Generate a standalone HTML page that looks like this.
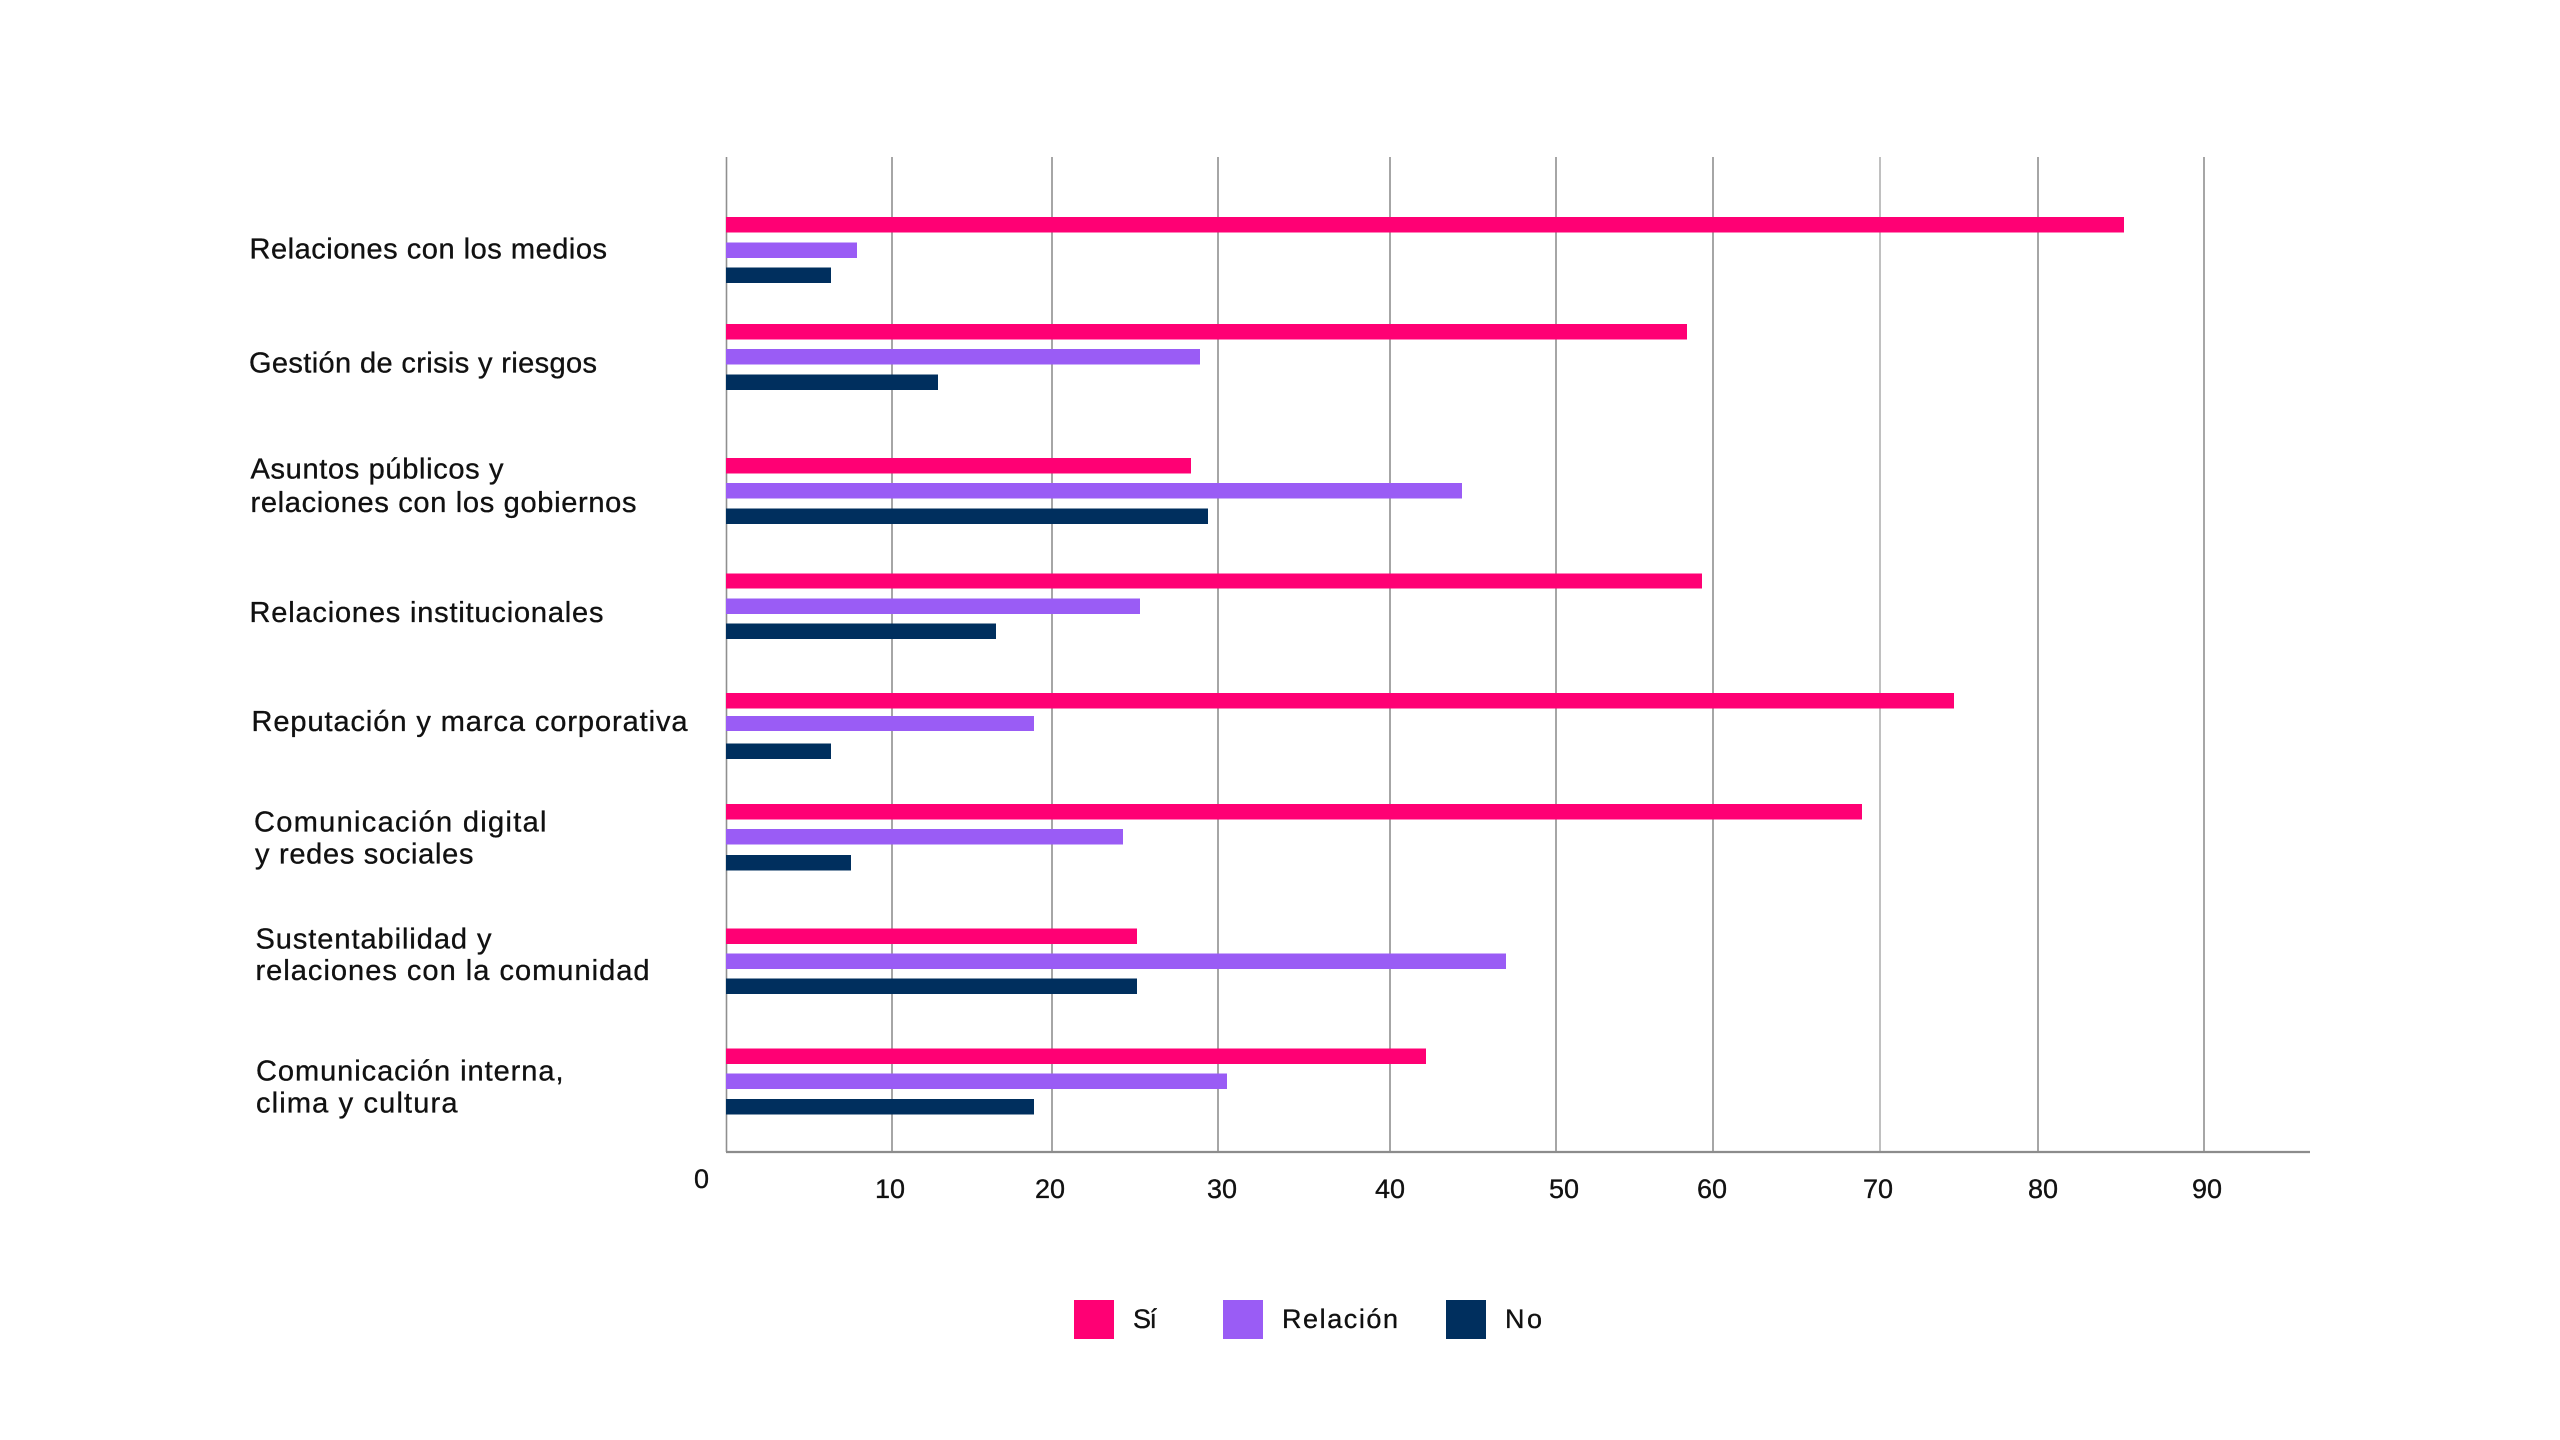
<!DOCTYPE html>
<html>
<head>
<meta charset="utf-8">
<style>
  html, body { margin:0; padding:0; background:#ffffff; }
  svg { display:block; }
  text { font-family: "Liberation Sans", "DejaVu Sans", sans-serif; fill:#111111; stroke:#111111; stroke-width:0.35; }
</style>
</head>
<body>
<svg width="2560" height="1440" viewBox="0 0 2560 1440" xmlns="http://www.w3.org/2000/svg">
  <rect x="0" y="0" width="2560" height="1440" fill="#ffffff"/>

  <!-- gridlines -->
  <g stroke="#8f8f8f" stroke-width="1.6">
    <line x1="726.5" y1="157" x2="726.5" y2="1152"/>
    <line x1="892" y1="157" x2="892" y2="1152"/>
    <line x1="1052" y1="157" x2="1052" y2="1152"/>
    <line x1="1218" y1="157" x2="1218" y2="1152"/>
    <line x1="1390" y1="157" x2="1390" y2="1152"/>
    <line x1="1556" y1="157" x2="1556" y2="1152"/>
    <line x1="1713" y1="157" x2="1713" y2="1152"/>
    <line x1="1880" y1="157" x2="1880" y2="1152" stroke="#b0b0b0"/>
    <line x1="2038" y1="157" x2="2038" y2="1152"/>
    <line x1="2204" y1="157" x2="2204" y2="1152"/>
  </g>
  <line x1="726" y1="1152" x2="2310" y2="1152" stroke="#8c8c8c" stroke-width="2.2"/>

  <!-- bars -->
  <g>
    <!-- G1 -->
    <rect x="726" y="217" width="1398" height="15.5" fill="#FF0074"/>
    <rect x="726" y="242.5" width="131" height="15.5" fill="#9A5CF5"/>
    <rect x="726" y="267.5" width="105" height="15.5" fill="#002F5E"/>
    <!-- G2 -->
    <rect x="726" y="324" width="961" height="15.5" fill="#FF0074"/>
    <rect x="726" y="349" width="474" height="15.5" fill="#9A5CF5"/>
    <rect x="726" y="374.5" width="212" height="15.5" fill="#002F5E"/>
    <!-- G3 -->
    <rect x="726" y="458" width="465" height="15.5" fill="#FF0074"/>
    <rect x="726" y="483" width="736" height="15.5" fill="#9A5CF5"/>
    <rect x="726" y="508.5" width="482" height="15.5" fill="#002F5E"/>
    <!-- G4 -->
    <rect x="726" y="573.5" width="976" height="15" fill="#FF0074"/>
    <rect x="726" y="598.5" width="414" height="15.5" fill="#9A5CF5"/>
    <rect x="726" y="623.5" width="270" height="15.5" fill="#002F5E"/>
    <!-- G5 -->
    <rect x="726" y="693" width="1228" height="15.5" fill="#FF0074"/>
    <rect x="726" y="716" width="308" height="15" fill="#9A5CF5"/>
    <rect x="726" y="743.5" width="105" height="15.5" fill="#002F5E"/>
    <!-- G6 -->
    <rect x="726" y="804" width="1136" height="15.5" fill="#FF0074"/>
    <rect x="726" y="829" width="397" height="15.5" fill="#9A5CF5"/>
    <rect x="726" y="855" width="125" height="15.5" fill="#002F5E"/>
    <!-- G7 -->
    <rect x="726" y="928.5" width="411" height="15.5" fill="#FF0074"/>
    <rect x="726" y="953.5" width="780" height="15.5" fill="#9A5CF5"/>
    <rect x="726" y="978.5" width="411" height="15.5" fill="#002F5E"/>
    <!-- G8 -->
    <rect x="726" y="1048.5" width="700" height="15.5" fill="#FF0074"/>
    <rect x="726" y="1073.5" width="501" height="15.5" fill="#9A5CF5"/>
    <rect x="726" y="1099" width="308" height="15.5" fill="#002F5E"/>
  </g>

  <!-- category labels -->
  <g font-size="29">
    <text x="249.5" y="258.3" textLength="357.5" lengthAdjust="spacing">Relaciones con los medios</text>
    <text x="249" y="372.3" textLength="348" lengthAdjust="spacing">Gestión de crisis y riesgos</text>
    <text x="250.5" y="478.7" textLength="253" lengthAdjust="spacing">Asuntos públicos y</text>
    <text x="250.5" y="512" textLength="386" lengthAdjust="spacing">relaciones con los gobiernos</text>
    <text x="249.5" y="621.8" textLength="354" lengthAdjust="spacing">Relaciones institucionales</text>
    <text x="251.5" y="731" textLength="436" lengthAdjust="spacing">Reputación y marca corporativa</text>
    <text x="254" y="831.3" textLength="292.5" lengthAdjust="spacing">Comunicación digital</text>
    <text x="255" y="863.3" textLength="218.5" lengthAdjust="spacing">y redes sociales</text>
    <text x="255.5" y="948.3" textLength="236" lengthAdjust="spacing">Sustentabilidad y</text>
    <text x="255.5" y="980" textLength="394" lengthAdjust="spacing">relaciones con la comunidad</text>
    <text x="256" y="1080.7" textLength="307.5" lengthAdjust="spacing">Comunicación interna,</text>
    <text x="256" y="1112.7" textLength="201.5" lengthAdjust="spacing">clima y cultura</text>
  </g>

  <!-- tick labels -->
  <g font-size="27" text-anchor="middle">
    <text x="701.5" y="1188">0</text>
    <text x="890" y="1198">10</text>
    <text x="1050" y="1198">20</text>
    <text x="1222" y="1198">30</text>
    <text x="1390" y="1198">40</text>
    <text x="1564" y="1198">50</text>
    <text x="1712" y="1198">60</text>
    <text x="1878" y="1198">70</text>
    <text x="2043" y="1198">80</text>
    <text x="2207" y="1198">90</text>
  </g>

  <!-- legend -->
  <rect x="1074" y="1300" width="40" height="39" fill="#FF0074"/>
  <rect x="1223" y="1300" width="40" height="39" fill="#9A5CF5"/>
  <rect x="1446" y="1300" width="40" height="39" fill="#002F5E"/>
  <g font-size="27">
    <text x="1133" y="1328" textLength="24" lengthAdjust="spacing">Sí</text>
    <text x="1282" y="1328" textLength="116" lengthAdjust="spacing">Relación</text>
    <text x="1505" y="1328" textLength="37" lengthAdjust="spacing">No</text>
  </g>
</svg>
</body>
</html>
